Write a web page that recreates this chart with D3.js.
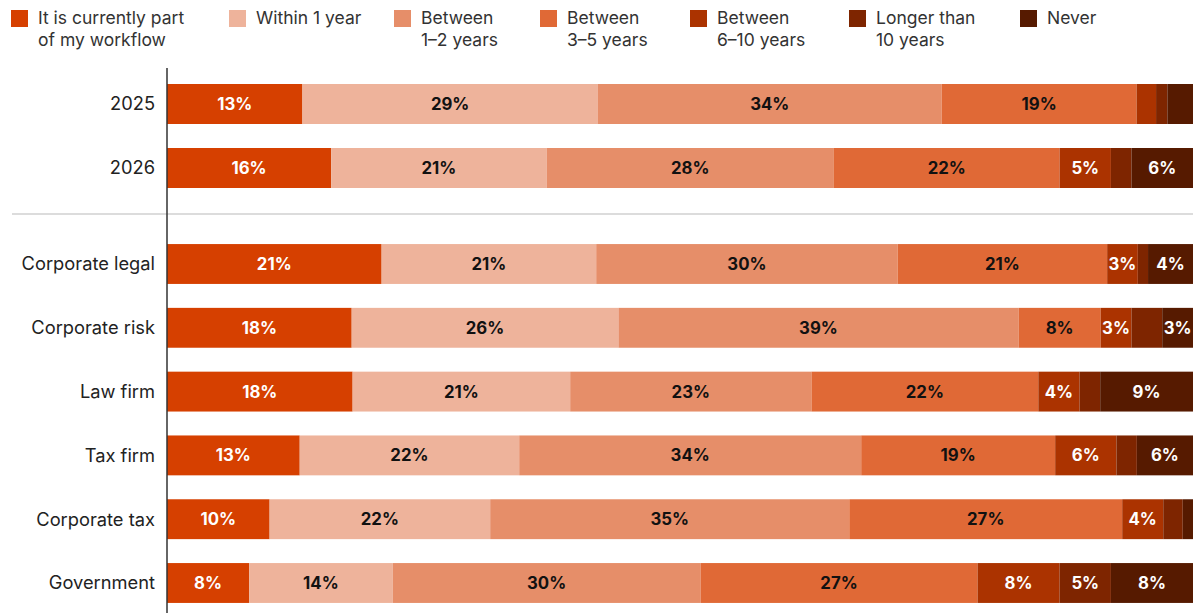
<!DOCTYPE html>
<html>
<head>
<meta charset="utf-8">
<script src="https://cdn.jsdelivr.net/npm/d3@7"></script>
<style>
  html, body { margin: 0; padding: 0; background: #fff; }
  svg { display: block; }
</style>
</head>
<body>
<svg id="chart" width="1196" height="613"></svg>
<script>
// ---- Data ----
const seriesNames = [
  "It is currently part of my workflow",
  "Within 1 year",
  "Between 1–2 years",
  "Between 3–5 years",
  "Between 6–10 years",
  "Longer than 10 years",
  "Never"
];
const legendLines = [
  ["It is currently part", "of my workflow"],
  ["Within 1 year"],
  ["Between", "1–2 years"],
  ["Between", "3–5 years"],
  ["Between", "6–10 years"],
  ["Longer than", "10 years"],
  ["Never"]
];
const yearCategories = ["2025", "2026"];
const sectorCategories = ["Corporate legal", "Corporate risk", "Law firm", "Tax firm", "Corporate tax", "Government"];

// values (%) per category, in series order (small unlabelled segments estimated)
const values2025 = [13.2, 28.8, 33.5, 19.0, 1.9, 1.1, 2.5];
const values2026 = [16, 21, 28, 22, 5, 2, 6];
const valuesCorporateLegal = [21, 21, 29.5, 20.5, 3, 1, 4.4];
const valuesCorporateRisk = [18, 26, 39, 8, 3, 3, 3];
const valuesLawFirm = [18, 21.1, 23.4, 22, 4, 2, 9];
const valuesTaxFirm = [13, 21.5, 33.5, 19, 6, 2, 5.5];
const valuesCorporateTax = [10, 21.5, 35, 26.6, 4, 1.9, 1];
const valuesGovernment = [8, 14, 30, 27, 8, 5, 8];

// segments shown without a value label: [category, series index]
const unlabelled = [
  ["2025", 4], ["2025", 5], ["2025", 6],
  ["2026", 5],
  ["Corporate legal", 5],
  ["Corporate risk", 5],
  ["Law firm", 5],
  ["Tax firm", 5],
  ["Corporate tax", 5], ["Corporate tax", 6]
];

const colors = ["#D64000", "#EEB39B", "#E68E69", "#E06936", "#AB3300", "#7E2500", "#561A00"];
const labelColors = ["#fff", "#111", "#111", "#111", "#fff", "#fff", "#fff"];

const valueTable = {
  "2025": values2025,
  "2026": values2026,
  "Corporate legal": valuesCorporateLegal,
  "Corporate risk": valuesCorporateRisk,
  "Law firm": valuesLawFirm,
  "Tax firm": valuesTaxFirm,
  "Corporate tax": valuesCorporateTax,
  "Government": valuesGovernment
};

// ---- Layout ----
const svg = d3.select("#chart");
const W = 1196, H = 613;
const plotLeft = 167, plotRight = 1193;
const font = "Inter, 'Noto Sans', sans-serif";

const x = d3.scaleLinear().domain([0, 100]).range([plotLeft, plotRight]);
const yTop = d3.scaleBand().domain(yearCategories).range([72, 200]).paddingInner(0.375).paddingOuter(0.1875);
const yBottom = d3.scaleBand().domain(sectorCategories).range([232.1, 614.9]).paddingInner(0.375).paddingOuter(0.1875);

const rows = [
  ...yearCategories.map(c => ({ cat: c, y: yTop(c), h: yTop.bandwidth() })),
  ...sectorCategories.map(c => ({ cat: c, y: yBottom(c), h: yBottom.bandwidth() }))
];

const isUnlabelled = (cat, i) => unlabelled.some(u => u[0] === cat && u[1] === i);

// Separator
svg.append("line")
  .attr("x1", 12).attr("x2", plotRight)
  .attr("y1", 214).attr("y2", 214)
  .attr("stroke", "#dcdcdc").attr("stroke-width", 2);

// Bars
rows.forEach(r => {
  const vals = valueTable[r.cat];
  const total = d3.sum(vals);
  const stack = [];
  let acc = 0;
  vals.forEach((v, i) => {
    stack.push({ i, v, x0: acc / total * 100, x1: (acc + v) / total * 100 });
    acc += v;
  });
  const g = svg.append("g");
  g.selectAll("rect").data(stack).join("rect")
    .attr("x", d => x(d.x0))
    .attr("width", d => x(d.x1) - x(d.x0))
    .attr("y", r.y)
    .attr("height", r.h)
    .attr("fill", d => colors[d.i]);
  g.selectAll("text").data(stack.filter(d => !isUnlabelled(r.cat, d.i))).join("text")
    .attr("x", d => (x(d.x0) + x(d.x1)) / 2)
    .attr("y", r.y + r.h / 2)
    .attr("dy", "0.36em")
    .attr("text-anchor", "middle")
    .attr("font-family", font)
    .attr("font-weight", 700)
    .attr("font-size", 16.8)
    .attr("fill", d => labelColors[d.i])
    .text(d => Math.round(d.v) + "%");

  svg.append("text")
    .attr("x", 155)
    .attr("y", r.y + r.h / 2)
    .attr("dy", "0.35em")
    .attr("text-anchor", "end")
    .attr("font-family", font)
    .attr("font-size", 18.3)
    .attr("fill", "#222")
    .text(r.cat);
});

// Axis line
svg.append("line")
  .attr("x1", plotLeft).attr("x2", plotLeft)
  .attr("y1", 68).attr("y2", H)
  .attr("stroke", "#333").attr("stroke-width", 1.5);

// Legend
const legendX = [11, 229, 394, 540, 690, 849, 1020];
const legend = svg.append("g");
seriesNames.forEach((name, i) => {
  const lg = legend.append("g").attr("transform", `translate(${legendX[i]},0)`);
  lg.append("rect").attr("x", 0).attr("y", 10).attr("width", 17).attr("height", 17).attr("fill", colors[i]);
  const t = lg.append("text")
    .attr("x", 27).attr("y", 24)
    .attr("font-family", font).attr("font-size", 17.5).attr("fill", "#333");
  legendLines[i].forEach((line, k) => {
    t.append("tspan").attr("x", 27).attr("y", 24 + k * 22).text(line);
  });
});
</script>
</body>
</html>
